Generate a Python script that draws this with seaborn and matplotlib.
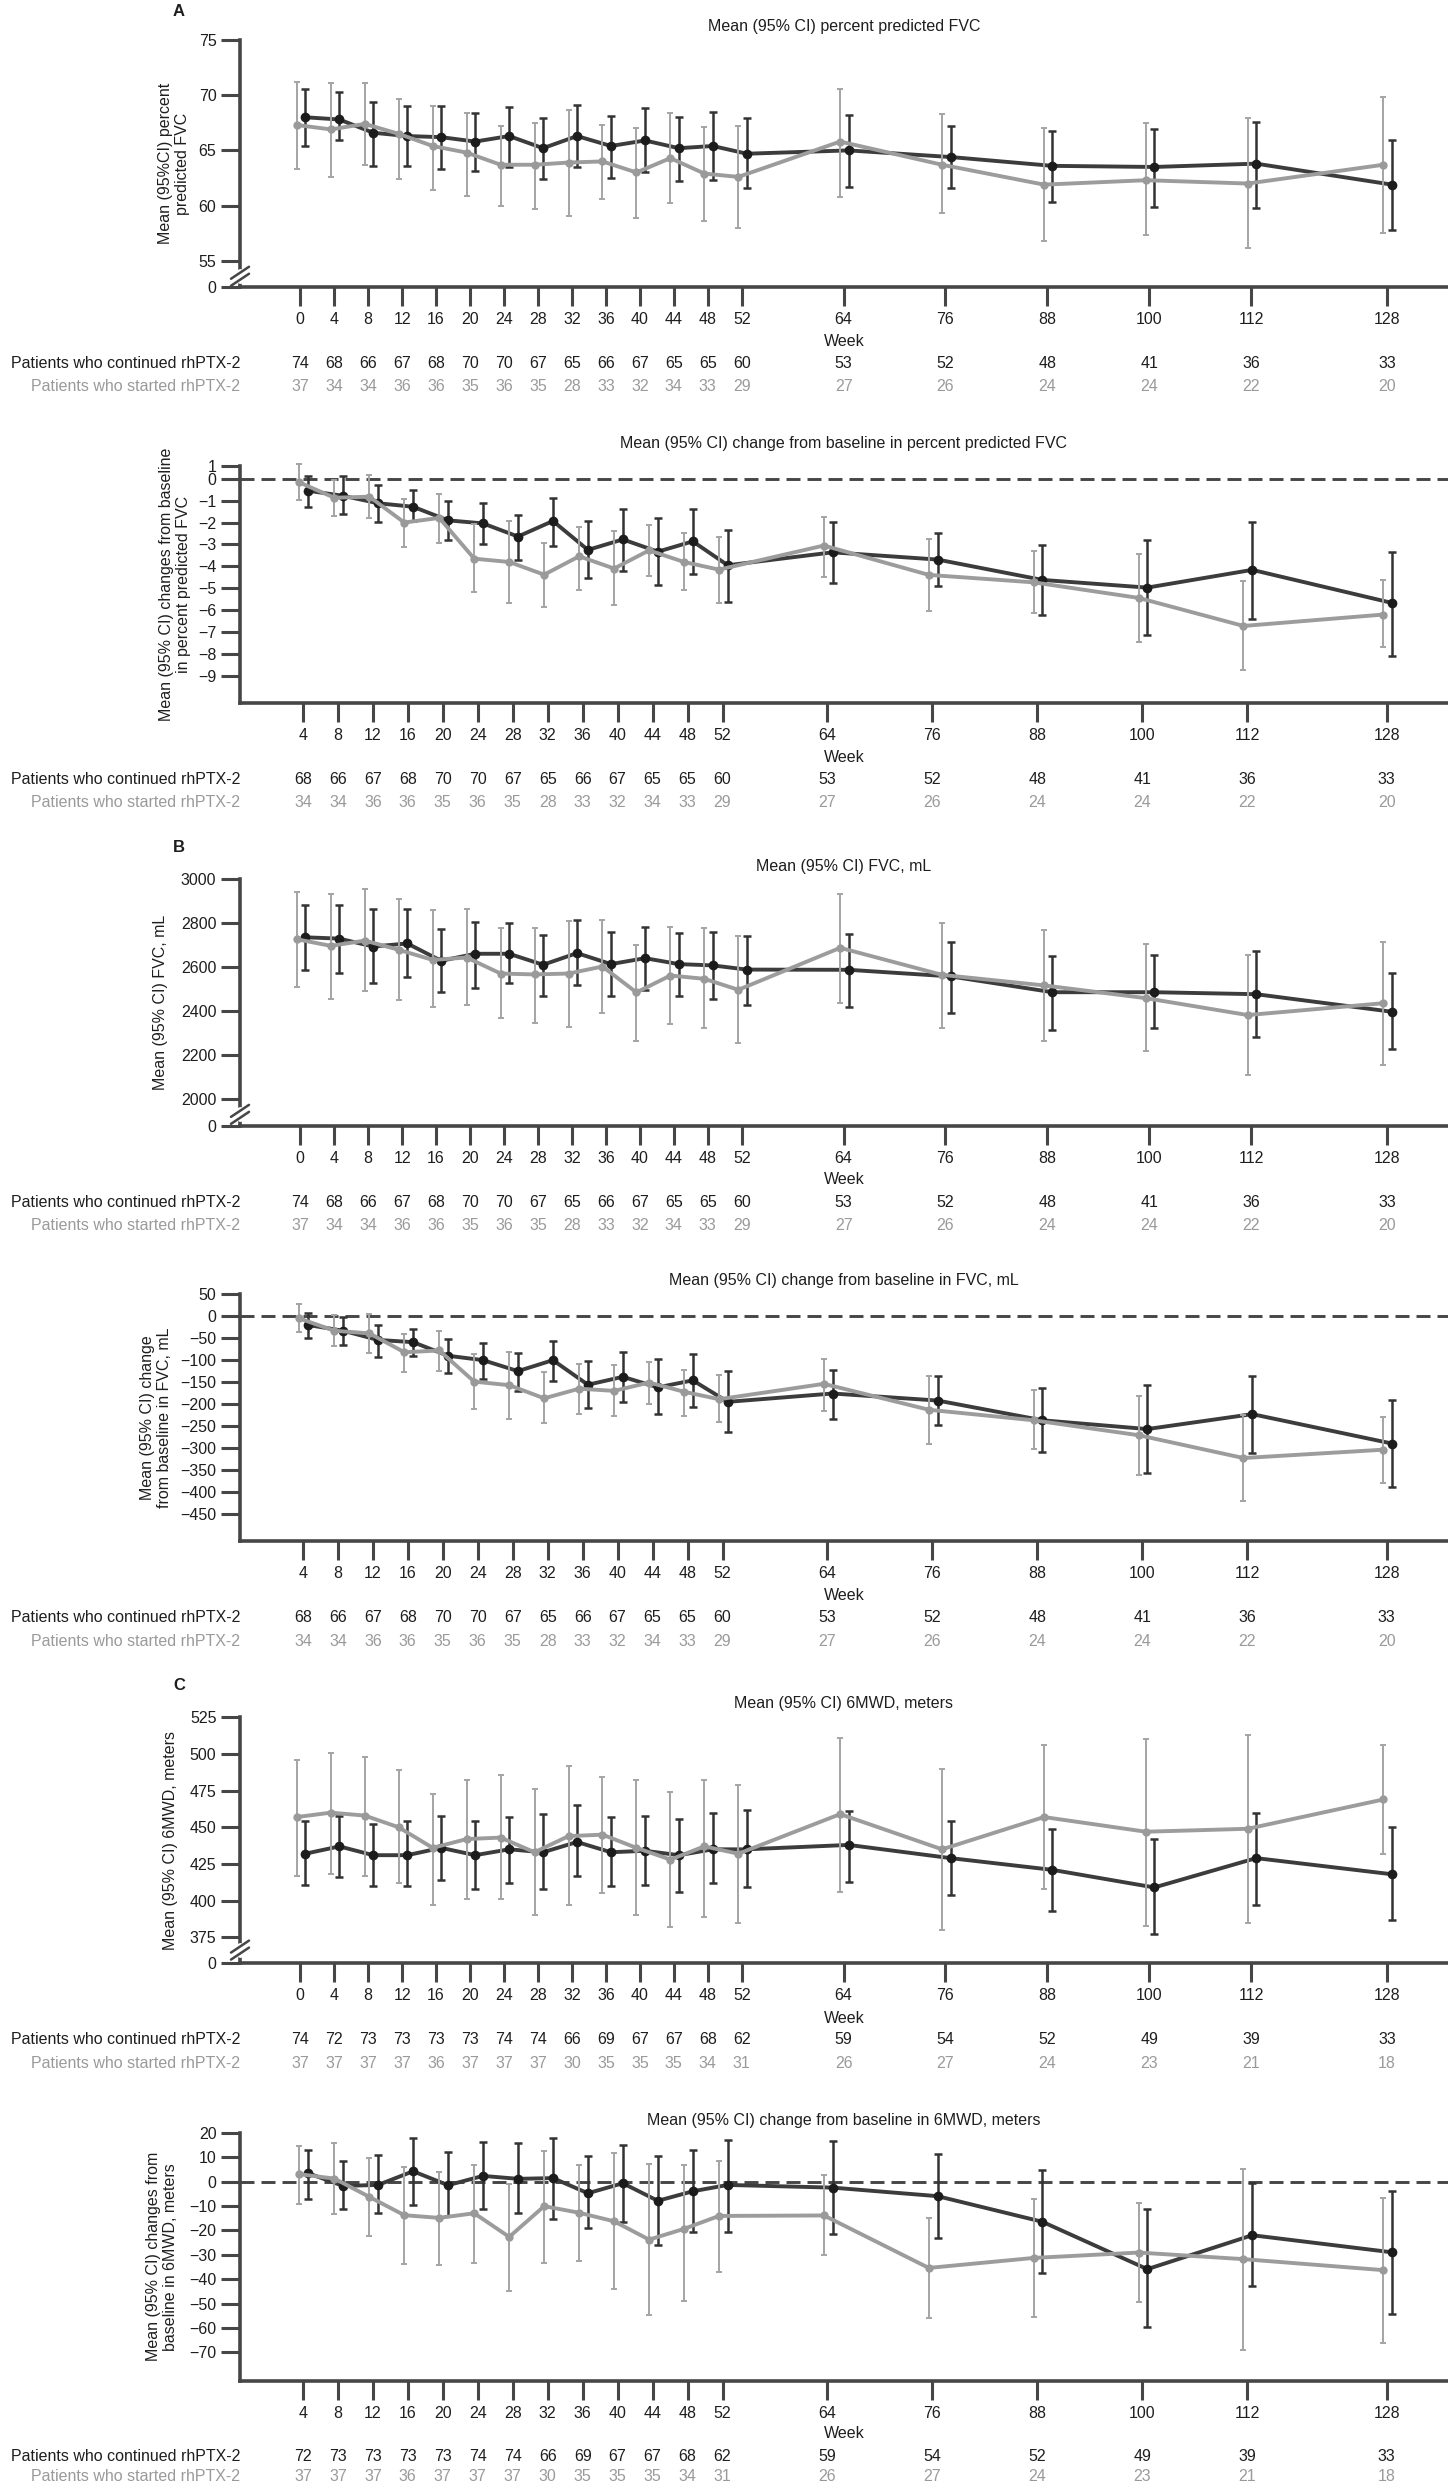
import matplotlib
matplotlib.use("Agg")
import matplotlib.pyplot as plt
from matplotlib.lines import Line2D
from matplotlib.transforms import blended_transform_factory
from matplotlib import font_manager
import pandas as pd
import seaborn as sns

W, H, DPI = 1448, 2484, 100

# ----------------------------- data -----------------------------
weeks_level = [0, 4, 8, 12, 16, 20, 24, 28, 32, 36, 40, 44, 48, 52, 64, 76, 88, 100, 112, 128]
weeks_change = [4, 8, 12, 16, 20, 24, 28, 32, 36, 40, 44, 48, 52, 64, 76, 88, 100, 112, 128]

# A (top): mean (95% CI) percent predicted FVC
ppfvc_cont_mean = [68.0, 67.8, 66.6, 66.3, 66.2, 65.8, 66.3, 65.2, 66.3, 65.4, 65.9, 65.2, 65.4, 64.7, 65.0, 64.4, 63.6, 63.5, 63.8, 61.9]
ppfvc_cont_lo = [65.4, 65.9, 63.6, 63.6, 63.3, 63.1, 63.5, 62.4, 63.5, 62.5, 63.0, 62.2, 62.3, 61.6, 61.7, 61.6, 60.3, 59.9, 59.8, 57.8]
ppfvc_cont_hi = [70.6, 70.3, 69.4, 69.0, 69.0, 68.4, 68.9, 67.9, 69.1, 68.1, 68.8, 68.0, 68.5, 67.9, 68.2, 67.2, 66.8, 66.9, 67.6, 65.9]
ppfvc_start_mean = [67.3, 66.9, 67.4, 66.5, 65.4, 64.8, 63.7, 63.7, 63.9, 64.0, 63.0, 64.3, 62.9, 62.6, 65.8, 63.7, 61.9, 62.3, 62.0, 63.7]
ppfvc_start_lo = [63.3, 62.6, 63.7, 62.4, 61.4, 60.9, 60.0, 59.7, 59.1, 60.6, 58.9, 60.2, 58.6, 58.0, 60.8, 59.3, 56.8, 57.3, 56.2, 57.5]
ppfvc_start_hi = [71.2, 71.1, 71.1, 69.7, 69.0, 68.4, 67.2, 67.5, 68.7, 67.3, 67.0, 68.4, 67.1, 67.2, 70.6, 68.3, 67.0, 67.5, 67.9, 69.8]

# A (bottom): change from baseline in percent predicted FVC
ppchg_cont_mean = [-0.55, -0.78, -1.12, -1.28, -1.9, -2.04, -2.64, -1.93, -3.25, -2.77, -3.33, -2.86, -3.95, -3.36, -3.69, -4.62, -4.97, -4.16, -5.67]
ppchg_cont_lo = [-1.28, -1.63, -1.96, -1.91, -2.81, -2.98, -3.69, -3.05, -4.51, -4.21, -4.86, -4.35, -5.64, -4.77, -4.89, -6.22, -7.14, -6.4, -8.07]
ppchg_cont_hi = [0.12, 0.12, -0.3, -0.52, -1.03, -1.12, -1.67, -0.87, -1.93, -1.38, -1.81, -1.38, -2.36, -1.99, -2.49, -3.04, -2.81, -1.96, -3.33]
ppchg_start_mean = [-0.17, -0.87, -0.82, -2.0, -1.79, -3.65, -3.8, -4.38, -3.54, -4.1, -3.27, -3.8, -4.15, -3.05, -4.39, -4.73, -5.44, -6.72, -6.2]
ppchg_start_lo = [-0.96, -1.72, -1.81, -3.1, -2.92, -5.17, -5.68, -5.84, -5.08, -5.76, -4.42, -5.1, -5.67, -4.5, -6.02, -6.14, -7.45, -8.74, -7.7]
ppchg_start_hi = [0.67, -0.06, 0.17, -0.93, -0.71, -2.07, -1.91, -2.92, -2.2, -2.39, -2.13, -2.49, -2.67, -1.73, -2.77, -3.3, -3.42, -4.68, -4.62]

# B (top): FVC, mL
fvc_cont_mean = [2736, 2730, 2694, 2708, 2629, 2661, 2661, 2611, 2664, 2614, 2641, 2614, 2608, 2589, 2588, 2558, 2486, 2486, 2477, 2397]
fvc_cont_lo = [2585, 2574, 2527, 2555, 2488, 2506, 2526, 2470, 2517, 2471, 2497, 2467, 2455, 2426, 2420, 2391, 2314, 2321, 2282, 2227]
fvc_cont_hi = [2883, 2882, 2865, 2864, 2776, 2806, 2803, 2748, 2817, 2759, 2785, 2756, 2761, 2742, 2753, 2715, 2653, 2655, 2673, 2573]
fvc_start_mean = [2727, 2697, 2721, 2679, 2633, 2644, 2571, 2567, 2571, 2603, 2485, 2562, 2547, 2497, 2688, 2565, 2517, 2459, 2382, 2436]
fvc_start_lo = [2512, 2453, 2491, 2452, 2418, 2426, 2367, 2345, 2327, 2392, 2262, 2341, 2324, 2256, 2439, 2321, 2262, 2217, 2111, 2153]
fvc_start_hi = [2944, 2933, 2955, 2909, 2858, 2864, 2779, 2780, 2812, 2814, 2703, 2782, 2779, 2741, 2932, 2802, 2768, 2706, 2656, 2715]

# B (bottom): change from baseline in FVC, mL
fvcchg_cont_mean = [-20, -33, -54, -59, -90, -100, -125, -100, -156, -138, -162, -146, -195, -176, -192, -237, -257, -223, -290]
fvcchg_cont_lo = [-49, -66, -92, -90, -129, -142, -171, -148, -208, -196, -223, -206, -263, -233, -248, -310, -356, -311, -389]
fvcchg_cont_hi = [8, -2, -20, -28, -52, -62, -84, -56, -101, -81, -98, -85, -125, -122, -137, -164, -157, -135, -190]
fvcchg_start_mean = [-5, -33, -39, -82, -78, -149, -157, -187, -165, -170, -151, -172, -189, -154, -213, -237, -271, -323, -304]
fvcchg_start_lo = [-36, -67, -84, -128, -124, -212, -234, -244, -223, -227, -200, -227, -242, -215, -291, -302, -361, -420, -380]
fvcchg_start_hi = [28, 2, 5, -40, -33, -87, -81, -128, -109, -111, -104, -122, -134, -97, -135, -168, -182, -225, -229]

# C (top): 6MWD, meters
mwd_cont_mean = [432, 437, 431, 431, 436, 431, 435, 433, 440, 433, 434, 431, 435, 435, 438, 429, 421, 409, 429, 418]
mwd_cont_lo = [411, 416, 410, 410, 414, 408, 412, 408, 417, 410, 411, 406, 412, 409, 413, 404, 393, 377, 397, 387]
mwd_cont_hi = [454, 458, 452, 454, 458, 454, 457, 459, 465, 457, 458, 456, 460, 462, 461, 454, 449, 442, 460, 450]
mwd_start_mean = [457, 460, 458, 450, 436, 442, 443, 433, 444, 445, 436, 428, 437, 432, 459, 435, 457, 447, 449, 469]
mwd_start_lo = [417, 418, 417, 412, 397, 401, 401, 390, 397, 405, 390, 382, 389, 385, 406, 380, 408, 383, 385, 432]
mwd_start_hi = [496, 501, 498, 489, 473, 482, 486, 476, 492, 484, 482, 474, 482, 479, 511, 490, 506, 510, 513, 506]

# C (bottom): change from baseline in 6MWD, meters
mwdchg_cont_mean = [3.4, -1.8, -1.4, 4.2, -1.5, 2.3, 1.1, 1.4, -4.8, -0.7, -7.9, -4.0, -1.4, -2.5, -6.0, -16.5, -35.9, -22.0, -29.0]
mwdchg_cont_lo = [-7.2, -11.1, -12.7, -9.8, -14.3, -11.1, -13.1, -15.2, -19.1, -16.7, -26.1, -20.5, -20.5, -21.6, -23.2, -37.3, -59.8, -42.9, -54.4]
mwdchg_cont_hi = [13.0, 8.6, 10.9, 18.0, 11.9, 16.0, 15.6, 18.0, 10.4, 14.9, 10.4, 13.0, 17.1, 16.7, 11.1, 4.9, -11.3, -0.7, -3.8]
mwdchg_start_mean = [3.0, 1.2, -6.3, -13.8, -14.9, -13.0, -22.7, -10.1, -12.8, -16.3, -23.8, -19.4, -14.1, -13.9, -35.4, -31.3, -29.1, -31.8, -36.3]
mwdchg_start_lo = [-9.2, -13.4, -22.4, -33.6, -34.0, -33.5, -44.7, -33.5, -32.5, -44.0, -54.5, -49.0, -37.2, -30.0, -55.9, -55.6, -49.2, -69.0, -66.0]
mwdchg_start_hi = [14.5, 15.8, 9.8, 6.1, 3.8, 6.8, -1.2, 12.3, 6.8, 11.6, 7.0, 6.6, 8.3, 2.6, -14.8, -7.2, -8.6, 5.2, -6.7]

# patients at risk
n_fvc_cont = [74, 68, 66, 67, 68, 70, 70, 67, 65, 66, 67, 65, 65, 60, 53, 52, 48, 41, 36, 33]
n_fvc_start = [37, 34, 34, 36, 36, 35, 36, 35, 28, 33, 32, 34, 33, 29, 27, 26, 24, 24, 22, 20]
n_fvcchg_cont = [68, 66, 67, 68, 70, 70, 67, 65, 66, 67, 65, 65, 60, 53, 52, 48, 41, 36, 33]
n_fvcchg_start = [34, 34, 36, 36, 35, 36, 35, 28, 33, 32, 34, 33, 29, 27, 26, 24, 24, 22, 20]
n_mwd_cont = [74, 72, 73, 73, 73, 73, 74, 74, 66, 69, 67, 67, 68, 62, 59, 54, 52, 49, 39, 33]
n_mwd_start = [37, 37, 37, 37, 36, 37, 37, 37, 30, 35, 35, 35, 34, 31, 26, 27, 24, 23, 21, 18]
n_mwdchg_cont = [72, 73, 73, 73, 73, 74, 74, 66, 69, 67, 67, 68, 62, 59, 54, 52, 49, 39, 33]
n_mwdchg_start = [37, 37, 37, 36, 37, 37, 37, 30, 35, 35, 35, 34, 31, 26, 27, 24, 23, 21, 18]

label_cont = "Patients who continued rhPTX-2"
label_start = "Patients who started rhPTX-2"

# ----------------------------- style -----------------------------
sns.set_theme(style="ticks")
avail = {f.name for f in font_manager.fontManager.ttflist}
REG = "Liberation Sans" if "Liberation Sans" in avail else "DejaVu Sans"
plt.rcParams["font.family"] = [REG, "DejaVu Sans"]
plt.rcParams["font.size"] = 11.5

DARK_LINE, DARK_MK, DARK_ERR = "#3c3c3c", "#1c1c1c", "#333333"
GRAY_LINE, GRAY_MK, GRAY_ERR = "#9c9c9c", "#9a9a9a", "#a4a4a4"
AX_COL, TXT, GRAY_TXT = "#464646", "#1e1e1e", "#9a9a9a"
FS = 11.5

fig = plt.figure(figsize=(W / DPI, H / DPI), dpi=DPI)
fig.patch.set_facecolor("white")


def fx(px):
    return px / W


def fy(px):
    return 1 - px / H


panels = [
    dict(weeks=weeks_level,
         cont=(ppfvc_cont_mean, ppfvc_cont_lo, ppfvc_cont_hi),
         start=(ppfvc_start_mean, ppfvc_start_lo, ppfvc_start_hi),
         n_cont=n_fvc_cont, n_start=n_fvc_start,
         top=40, bottom=287.3, xlim=(-7.1, 135.2), ylim=(52.6, 75),
         yticks=[52.6, 55, 60, 65, 70, 75], yticklabels=["0", "55", "60", "65", "70", "75"],
         brk=53.6, zero=False,
         title="Mean (95% CI) percent predicted FVC", title_y=27,
         ylabel="Mean (95%CI) percent\npredicted FVC", ylabel_x=174,
         week_y=341.7, cont_y=364, start_y=386.7, letter="A", letter_y=12),
    dict(weeks=weeks_change,
         cont=(ppchg_cont_mean, ppchg_cont_lo, ppchg_cont_hi),
         start=(ppchg_start_mean, ppchg_start_lo, ppchg_start_hi),
         n_cont=n_fvcchg_cont, n_start=n_fvcchg_start,
         top=466, bottom=703.3, xlim=(-3.2, 135.0), ylim=(-10.25, 0.58),
         yticks=[-9, -8, -7, -6, -5, -4, -3, -2, -1, 0, 0.58],
         yticklabels=["\u22129", "\u22128", "\u22127", "\u22126", "\u22125", "\u22124", "\u22123",
                      "\u22122", "\u22121", "0", "1"],
         brk=None, zero=True,
         title="Mean (95% CI) change from baseline in percent predicted FVC", title_y=443.3,
         ylabel="Mean (95% CI) changes from baseline\nin percent predicted FVC", ylabel_x=175,
         week_y=757.3, cont_y=779.3, start_y=802.7, letter=None, letter_y=None),
    dict(weeks=weeks_level,
         cont=(fvc_cont_mean, fvc_cont_lo, fvc_cont_hi),
         start=(fvc_start_mean, fvc_start_lo, fvc_start_hi),
         n_cont=n_fvc_cont, n_start=n_fvc_start,
         top=879.3, bottom=1126, xlim=(-7.1, 135.2), ylim=(1877, 3000),
         yticks=[1877, 2000, 2200, 2400, 2600, 2800, 3000],
         yticklabels=["0", "2000", "2200", "2400", "2600", "2800", "3000"],
         brk=1930, zero=False,
         title="Mean (95% CI) FVC, mL", title_y=866,
         ylabel="Mean (95% CI) FVC, mL", ylabel_x=160,
         week_y=1180, cont_y=1202.3, start_y=1226, letter="B", letter_y=847.7),
    dict(weeks=weeks_change,
         cont=(fvcchg_cont_mean, fvcchg_cont_lo, fvcchg_cont_hi),
         start=(fvcchg_start_mean, fvcchg_start_lo, fvcchg_start_hi),
         n_cont=n_fvcchg_cont, n_start=n_fvcchg_start,
         top=1294.3, bottom=1541, xlim=(-3.2, 135.0), ylim=(-512, 50),
         yticks=[-450, -400, -350, -300, -250, -200, -150, -100, -50, 0, 50],
         yticklabels=["\u2212450", "\u2212400", "\u2212350", "\u2212300", "\u2212250", "\u2212200",
                      "\u2212150", "\u2212100", "\u221250", "0", "50"],
         brk=None, zero=True,
         title="Mean (95% CI) change from baseline in FVC, mL", title_y=1281,
         ylabel="Mean (95% CI) change\nfrom baseline in FVC, mL", ylabel_x=156,
         week_y=1595, cont_y=1617.3, start_y=1641.7, letter=None, letter_y=None),
    dict(weeks=weeks_level,
         cont=(mwd_cont_mean, mwd_cont_lo, mwd_cont_hi),
         start=(mwd_start_mean, mwd_start_lo, mwd_start_hi),
         n_cont=n_mwd_cont, n_start=n_mwd_start,
         top=1717.3, bottom=1963.3, xlim=(-7.1, 135.2), ylim=(357.3, 525),
         yticks=[357.3, 375, 400, 425, 450, 475, 500, 525],
         yticklabels=["0", "375", "400", "425", "450", "475", "500", "525"],
         brk=366.3, zero=False,
         title="Mean (95% CI) 6MWD, meters", title_y=1703.3,
         ylabel="Mean (95% CI) 6MWD, meters", ylabel_x=170,
         week_y=2018.3, cont_y=2040, start_y=2064, letter="C", letter_y=1686),
    dict(weeks=weeks_change,
         cont=(mwdchg_cont_mean, mwdchg_cont_lo, mwdchg_cont_hi),
         start=(mwdchg_start_mean, mwdchg_start_lo, mwdchg_start_hi),
         n_cont=n_mwdchg_cont, n_start=n_mwdchg_start,
         top=2132.7, bottom=2380.7, xlim=(-3.2, 135.0), ylim=(-81.6, 20),
         yticks=[-70, -60, -50, -40, -30, -20, -10, 0, 10, 20],
         yticklabels=["\u221270", "\u221260", "\u221250", "\u221240", "\u221230", "\u221220",
                      "\u221210", "0", "10", "20"],
         brk=None, zero=True,
         title="Mean (95% CI) change from baseline in 6MWD, meters", title_y=2120,
         ylabel="Mean (95% CI) changes from\nbaseline in 6MWD, meters", ylabel_x=162,
         week_y=2433.3, cont_y=2456.7, start_y=2476.7, letter=None, letter_y=None),
]

AX_LEFT = 240
CENTER_X = (AX_LEFT + W) / 2

for p in panels:
    ax = fig.add_axes([fx(AX_LEFT), fy(p["bottom"]), fx(W) - fx(AX_LEFT),
                       (p["bottom"] - p["top"]) / H])
    ax.set_facecolor("none")

    rows = []
    for grp, (m, lo, hi), off in (("continued", p["cont"], 0.6), ("started", p["start"], -0.4)):
        for w, mm, l, h in zip(p["weeks"], m, lo, hi):
            rows.append(dict(group=grp, week=w, x=w + off, mean=mm, lo=l, hi=h))
    df = pd.DataFrame(rows)

    if p["zero"]:
        ax.axhline(0, color=AX_COL, lw=2.1, ls=(0, (4.8, 2.4)), zorder=1)

    styles = {
        "continued": dict(line=DARK_LINE, mk=DARK_MK, err=DARK_ERR, elw=1.8, cap=2.9, ms=7.0, z=3),
        "started": dict(line=GRAY_LINE, mk=GRAY_MK, err=GRAY_ERR, elw=1.4, cap=2.5, ms=6.0, z=4),
    }
    for grp in ["continued", "started"]:
        s = styles[grp]
        sub = df[df["group"] == grp]
        eb = ax.errorbar(sub["x"], sub["mean"],
                         yerr=[sub["mean"] - sub["lo"], sub["hi"] - sub["mean"]],
                         fmt="none", ecolor=s["err"], elinewidth=s["elw"], capsize=s["cap"],
                         capthick=s["elw"], zorder=s["z"] - 0.5)
        for c in eb[1]:
            c.set_clip_on(False)
        for b in eb[2]:
            b.set_clip_on(False)
        sns.lineplot(data=sub, x="x", y="mean", ax=ax, color=s["line"], lw=2.8,
                     marker="o", markersize=s["ms"], markerfacecolor=s["mk"],
                     markeredgecolor=s["mk"], markeredgewidth=0, errorbar=None,
                     legend=False, zorder=s["z"], clip_on=False)

    ax.set_xlim(*p["xlim"])
    ax.set_ylim(*p["ylim"])
    ax.set_xticks(p["weeks"])
    ax.set_xticklabels([str(w) for w in p["weeks"]])
    ax.set_yticks(p["yticks"])
    ax.set_yticklabels(p["yticklabels"])
    ax.set_xlabel("")
    ax.set_ylabel("")
    ax.tick_params(axis="both", direction="out", length=13.5, width=2.2, color=AX_COL,
                   labelsize=FS, labelcolor=TXT, bottom=True, left=True)
    ax.tick_params(axis="x", pad=4.5)
    ax.tick_params(axis="y", pad=3.5)
    sns.despine(ax=ax)
    for side in ("left", "bottom"):
        ax.spines[side].set_color(AX_COL)
        ax.spines[side].set_linewidth(2.6)

    # axis break marks
    if p["brk"] is not None:
        _, ybd = ax.transData.transform((p["xlim"][0], p["brk"]))
        ypx = H - ybd
        fig.add_artist(Line2D([fx(AX_LEFT), fx(AX_LEFT)], [fy(ypx - 4), fy(ypx + 4)],
                              color="white", lw=5, zorder=5))
        for dy in (-3.5, 3.5):
            fig.add_artist(Line2D([fx(AX_LEFT - 9), fx(AX_LEFT + 9)],
                                  [fy(ypx + dy + 6), fy(ypx + dy - 6)],
                                  color=AX_COL, lw=1.8, zorder=6))

    # texts
    fig.text(fx(CENTER_X), fy(p["title_y"]), p["title"], ha="center", va="center",
             color=TXT, fontsize=FS)
    fig.text(fx(p["ylabel_x"]), fy((p["top"] + p["bottom"]) / 2), p["ylabel"], rotation=90,
             ha="center", va="center", color=TXT, fontsize=FS, linespacing=1.1)
    fig.text(fx(CENTER_X), fy(p["week_y"]), "Week", ha="center", va="center", color=TXT,
             fontsize=FS)
    if p["letter"]:
        fig.text(fx(179), fy(p["letter_y"]), p["letter"], ha="center", va="center",
                 color=TXT, fontsize=12, fontweight="bold")

    trans = blended_transform_factory(ax.transData, fig.transFigure)
    fig.text(fx(AX_LEFT), fy(p["cont_y"]), label_cont, ha="right", va="center", color=TXT,
             fontsize=FS)
    fig.text(fx(AX_LEFT), fy(p["start_y"]), label_start, ha="right", va="center",
             color=GRAY_TXT, fontsize=FS)
    for w, nc, ns in zip(p["weeks"], p["n_cont"], p["n_start"]):
        ax.text(w, fy(p["cont_y"]), str(nc), transform=trans, ha="center", va="center",
                color=TXT, fontsize=FS)
        ax.text(w, fy(p["start_y"]), str(ns), transform=trans, ha="center", va="center",
                color=GRAY_TXT, fontsize=FS)

fig.savefig("out.png", dpi=DPI, facecolor="white")
